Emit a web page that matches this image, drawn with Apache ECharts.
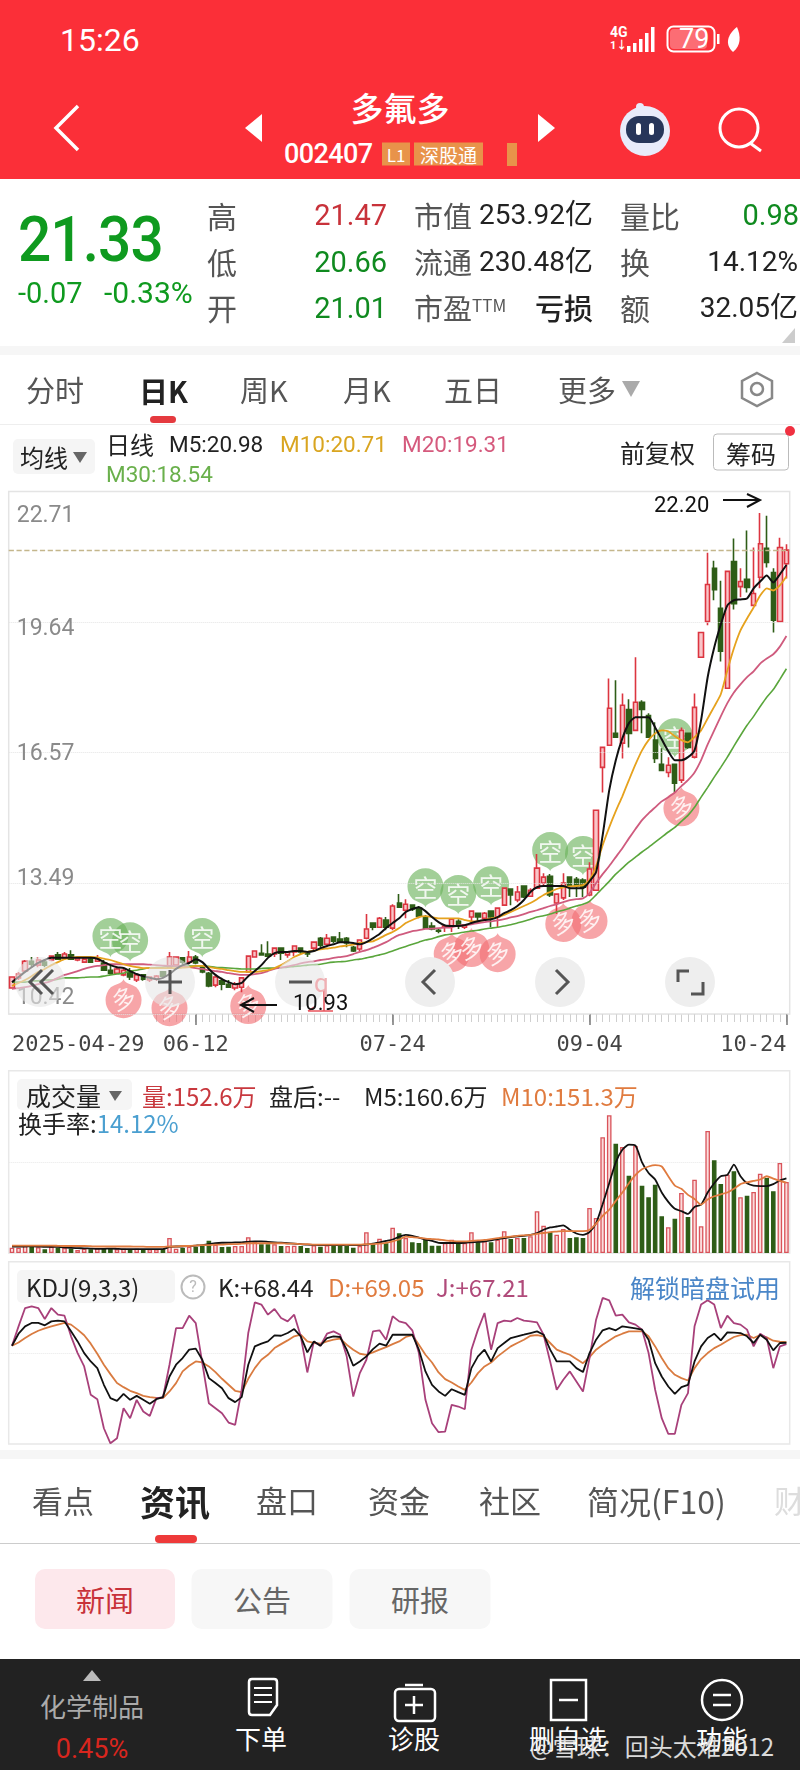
<!DOCTYPE html>
<html>
<head>
<meta charset="utf-8">
<title>多氟多</title>
<script src="https://cdn.jsdelivr.net/npm/echarts@6/dist/echarts.min.js"></script>
<style>
    html, body { margin: 0; padding: 0; background: #fff; }
    body { width: 800px; height: 1770px; position: relative; overflow: hidden; font-family: "Noto Sans CJK SC", Roboto, sans-serif; color: #222; }
    #chart { position: absolute; left: 0; top: 0; width: 800px; height: 1770px; }
    .b { position: absolute; }
    .t { position: absolute; white-space: nowrap; transform: translateY(-50%); line-height: 1.2; }
    .n { font-family: Roboto, "Noto Sans CJK SC", sans-serif; }
    .c { transform: translate(-50%, -50%); }
    svg { position: absolute; overflow: visible; }
</style>
</head>
<body>
<div id="chart"></div>

<!-- 顶部红色标题栏 -->
<div class="b" style="left:0;top:0;width:800px;height:179px;background:#fb2f38"></div>
<div class="t n" style="left:60px;top:40px;font-size:32px;color:#fff">15:26</div>
<div class="t n" style="left:610px;top:32px;font-size:14px;font-weight:700;color:#fff">4G</div>
<div class="t n" style="left:610px;top:46px;font-size:11px;font-weight:700;color:#fff">1↓</div>
<svg style="left:0;top:0" width="800" height="180" fill="#fff" stroke="none">
    <rect x="627" y="46" width="3.5" height="6"/><rect x="633" y="43" width="3.5" height="9"/><rect x="639" y="39" width="3.5" height="13"/><rect x="645" y="33" width="3.5" height="19"/><rect x="651" y="27" width="3.5" height="25"/>
    <rect x="667.5" y="26.5" width="47" height="25" rx="6" fill="none" stroke="#fff" stroke-width="2"/>
    <rect x="670" y="29" width="37" height="20" rx="4" fill="#fff" fill-opacity=".3"/>
    <rect x="717" y="34" width="2.5" height="10"/>
    <path d="M733 52 C724 44 728 34 737 27 C741 36 741 46 733 52Z"/>
    <path d="M78 106 L56 128 L78 150" fill="none" stroke="#fff" stroke-width="3.5"/>
    <path d="M262 114 L262 142 L245 128Z"/><path d="M538 114 L538 142 L555 128Z"/>
    <circle cx="645" cy="131" r="25" fill="#e8ebfa"/><circle cx="640" cy="107" r="4" fill="#e8ebfa"/>
    <rect x="626" y="116" width="38" height="27" rx="13" fill="#27365a"/>
    <rect x="636" y="123" width="5" height="12" rx="2.5"/><rect x="649" y="123" width="5" height="12" rx="2.5"/>
    <circle cx="739" cy="128" r="19" fill="none" stroke="#fff" stroke-width="3"/>
    <path d="M750 143 L761 151" fill="none" stroke="#fff" stroke-width="3"/>
</svg>
<div class="t n" style="left:679px;top:39px;font-size:27px;color:#fff">79</div>
<div class="t c" style="left:400px;top:108px;font-size:33px;color:#fff;font-weight:500">多氟多</div>
<div class="t n" style="left:284px;top:154px;font-size:27px;color:#fff;font-weight:500;letter-spacing:-.6px">002407</div>
<div class="t" style="left:382px;top:154px;width:28px;height:23px;line-height:23px;text-align:center;background:#e8934a;color:#fff;font-size:17px">L1</div>
<div class="t" style="left:414px;top:154px;width:69px;height:23px;line-height:23px;text-align:center;background:#e8934a;color:#fff;font-size:19px">深股通</div>
<div class="b" style="left:507px;top:143px;width:10px;height:23px;background:#e8934a"></div>

<!-- 行情摘要 -->
<div class="t n" style="left:18px;top:240px;font-size:63px;font-weight:500;color:#0f9a1f;letter-spacing:-1px;transform:translateY(-50%) scaleX(.93);transform-origin:left center">21.33</div>
<div class="t n" style="left:18px;top:293px;font-size:29px;color:#0f9a1f">-0.07</div>
<div class="t n" style="left:104px;top:293px;font-size:30px;color:#0f9a1f">-0.33%</div>
<div class="t" style="left:207px;top:215px;font-size:30px;color:#555">高</div>
<div class="t" style="left:207px;top:261px;font-size:30px;color:#555">低</div>
<div class="t" style="left:207px;top:307px;font-size:30px;color:#555">开</div>
<div class="t n" style="right:413px;top:215px;font-size:29px;color:#c8323a">21.47</div>
<div class="t n" style="right:413px;top:262px;font-size:29px;color:#0f8a1f">20.66</div>
<div class="t n" style="right:413px;top:308px;font-size:29px;color:#0f8a1f">21.01</div>
<div class="t" style="left:414px;top:215px;font-size:29px;color:#555">市值</div>
<div class="t n" style="right:207px;top:215px;font-size:28px;color:#222">253.92亿</div>
<div class="t" style="left:414px;top:261px;font-size:29px;color:#555">流通</div>
<div class="t n" style="right:207px;top:262px;font-size:28px;color:#222">230.48亿</div>
<div class="t" style="left:414px;top:307px;font-size:29px;color:#555">市盈<span style="font-size:17px;vertical-align:8px">TTM</span></div>
<div class="t" style="right:207px;top:307px;font-size:29px;font-weight:500;color:#222">亏损</div>
<div class="t" style="left:620px;top:215px;font-size:30px;color:#555">量比</div>
<div class="t" style="left:620px;top:261px;font-size:30px;color:#555">换</div>
<div class="t" style="left:620px;top:307px;font-size:30px;color:#555">额</div>
<div class="t n" style="right:1px;top:215px;font-size:29px;color:#0f8a1f">0.98</div>
<div class="t n" style="right:2px;top:262px;font-size:28px;color:#222">14.12%</div>
<div class="t n" style="right:2px;top:308px;font-size:28px;color:#222">32.05亿</div>
<svg style="left:0;top:0" width="800" height="350"><path d="M795 328 L795 343 L782 343Z" fill="#ccc"/></svg>
<div class="b" style="left:0;top:346px;width:800px;height:9px;background:#f6f6f6"></div>

<!-- 周期切换 -->
<div class="t" style="left:26px;top:389px;font-size:29px;color:#555">分时</div>
<div class="t" style="left:139px;top:390px;font-size:29px;font-weight:700;color:#222">日K</div>
<div class="t" style="left:240px;top:389px;font-size:29px;color:#555">周K</div>
<div class="t" style="left:343px;top:389px;font-size:29px;color:#555">月K</div>
<div class="t" style="left:444px;top:389px;font-size:29px;color:#555">五日</div>
<div class="t" style="left:558px;top:389px;font-size:29px;color:#555">更多</div>
<svg style="left:0;top:0" width="800" height="490">
    <path d="M622 381 L640 381 L631 397Z" fill="#aaa"/>
    <path d="M757 373 L772 381 L772 398 L757 406 L742 398 L742 381Z" fill="none" stroke="#888" stroke-width="2.5"/>
    <circle cx="757" cy="389" r="6" fill="none" stroke="#888" stroke-width="2.5"/>
</svg>
<div class="b" style="left:150px;top:416px;width:26px;height:7px;border-radius:4px;background:#e53a3f"></div>
<div class="b" style="left:0;top:424px;width:800px;height:1px;background:#eee"></div>

<!-- 均线图例 -->
<div class="b" style="left:13px;top:439px;width:82px;height:35px;background:#f5f5f5;border-radius:5px"></div>
<div class="t" style="left:20px;top:457px;font-size:24px">均线</div>
<svg style="left:0;top:0" width="800" height="490"><path d="M73 452 L87 452 L80 463Z" fill="#666"/></svg>
<div class="t" style="left:106px;top:444px;font-size:24px">日线</div>
<div class="t n" style="left:169px;top:444px;font-size:22.5px">M5:20.98</div>
<div class="t n" style="left:280px;top:444px;font-size:22.5px;color:#d9a520">M10:20.71</div>
<div class="t n" style="left:402px;top:444px;font-size:22.5px;color:#d55a7d">M20:19.31</div>
<div class="t n" style="left:106px;top:474px;font-size:22.5px;color:#6ab04c">M30:18.54</div>
<div class="t" style="left:620px;top:452px;font-size:25px">前复权</div>
<div class="t" style="left:713px;top:452px;width:76px;height:37px;line-height:37px;text-align:center;font-size:25px;border:1.5px solid #bbb;border-radius:4px;box-sizing:border-box">筹码</div>
<div class="b" style="left:785px;top:426px;width:10px;height:10px;border-radius:50%;background:#f03040"></div>

<!-- 主图叠加 -->
<div class="t n" style="left:654px;top:505px;font-size:22px;color:#111">22.20</div>
<svg style="left:0;top:0" width="800" height="1040" fill="none" stroke="#111" stroke-width="2">
    <path d="M723 500 L759 500 M747 494 L760 500 L747 507"/>
    <path d="M277 1005 L242 1005 M254 998 L241 1005 L254 1012"/>
    <path d="M308 1011 L333 1011 M308 1011 L314 1007 M324 990 L324 1011" stroke="#e8545c" stroke-width="1.5"/>
    <circle cx="40" cy="982" r="25" fill="#e6e6e6" fill-opacity=".6" stroke="none"/>
    <circle cx="170" cy="982" r="25" fill="#e6e6e6" fill-opacity=".6" stroke="none"/>
    <circle cx="300" cy="982" r="25" fill="#e6e6e6" fill-opacity=".6" stroke="none"/>
    <circle cx="430" cy="982" r="25" fill="#eee" stroke="none"/>
    <circle cx="560" cy="982" r="25" fill="#eee" stroke="none"/>
    <circle cx="690" cy="982" r="25" fill="#eee" stroke="none"/>
    <g stroke="#555" stroke-width="3">
        <path d="M42 970 L30 982 L42 994 M53 970 L41 982 L53 994"/>
        <path d="M158 982 L182 982 M170 970 L170 994"/>
        <path d="M289 982 L312 982"/>
        <path d="M435 970 L423 982 L435 994"/>
        <path d="M556 970 L568 982 L556 994"/>
        <path d="M678 982 L678 971 L689 971 M703 982 L703 994 L691 994"/>
    </g>
</svg>
<div class="t n" style="left:293px;top:1003px;font-size:22px;color:#111">10.93</div>
<div class="t n" style="left:314px;top:984px;font-size:26px;color:#efb0b4">q</div>

<!-- 副图图例 -->
<div class="b" style="left:17px;top:1079px;width:115px;height:31px;background:#f5f5f5;border-radius:5px"></div>
<div class="t" style="left:26px;top:1095px;font-size:25px">成交量</div>
<svg style="left:0;top:0" width="800" height="1310">
    <path d="M109 1091 L122 1091 L115 1101Z" fill="#666"/>
    <path d="M152 1283 L165 1283 L158 1293Z" fill="#666"/>
    <circle cx="193" cy="1287" r="11.5" fill="none" stroke="#bbb" stroke-width="2"/>
</svg>
<div class="t" style="left:142px;top:1096px;font-size:24px;color:#c8383e">量:152.6万</div>
<div class="t" style="left:269px;top:1096px;font-size:24px">盘后:--</div>
<div class="t" style="left:364px;top:1096px;font-size:24px">M5:160.6万</div>
<div class="t" style="left:501px;top:1096px;font-size:24px;color:#e07b3f">M10:151.3万</div>
<div class="t" style="left:18px;top:1123px;font-size:24px">换手率:<span style="color:#4a9fd0">14.12%</span></div>

<div class="b" style="left:17px;top:1270px;width:158px;height:33px;background:#f5f5f5;border-radius:5px"></div>
<div class="t" style="left:26px;top:1287px;font-size:24px">KDJ(9,3,3)</div>
<div class="t c n" style="left:193px;top:1287px;font-size:16px;color:#bbb">?</div>
<div class="t" style="left:218px;top:1287px;font-size:24px">K:+68.44</div>
<div class="t" style="left:328px;top:1287px;font-size:24px;color:#e07b3f">D:+69.05</div>
<div class="t" style="left:436px;top:1287px;font-size:24px;color:#b04a7a">J:+67.21</div>
<div class="t" style="left:630px;top:1287px;font-size:25px;color:#4a86c8">解锁暗盘试用</div>

<!-- 资讯栏 -->
<div class="b" style="left:0;top:1450px;width:800px;height:9px;background:#f6f6f6"></div>
<div class="t" style="left:32px;top:1500px;font-size:31px;color:#555">看点</div>
<div class="t" style="left:140px;top:1501px;font-size:35px;font-weight:700">资讯</div>
<div class="t" style="left:256px;top:1500px;font-size:31px;color:#555">盘口</div>
<div class="t" style="left:368px;top:1500px;font-size:31px;color:#555">资金</div>
<div class="t" style="left:479px;top:1500px;font-size:31px;color:#555">社区</div>
<div class="t" style="left:587px;top:1500px;font-size:32px;color:#555">简况(F10)</div>
<div class="t" style="left:774px;top:1500px;font-size:31px;color:#ddd">财</div>
<div class="b" style="left:155px;top:1535px;width:42px;height:8px;border-radius:4px;background:#ee3a3a"></div>
<div class="b" style="left:0;top:1543px;width:800px;height:1px;background:#ccc"></div>
<div class="t c" style="left:105px;top:1599px;width:140px;height:60px;line-height:60px;text-align:center;background:#fde8ec;border-radius:10px;font-size:29px;color:#c8323a">新闻</div>
<div class="t c" style="left:262px;top:1599px;width:141px;height:60px;line-height:60px;text-align:center;background:#f7f7f7;border-radius:10px;font-size:29px;color:#666">公告</div>
<div class="t c" style="left:420px;top:1599px;width:141px;height:60px;line-height:60px;text-align:center;background:#f7f7f7;border-radius:10px;font-size:29px;color:#666">研报</div>

<!-- 底部导航 -->
<div class="b" style="left:0;top:1659px;width:800px;height:111px;background:#222"></div>
<svg style="left:0;top:0" width="800" height="1770" fill="none" stroke="#fff" stroke-width="2.5">
    <path d="M83 1681 L101 1681 L92 1670Z" fill="#bbb" stroke="none"/>
    <path d="M249 1682 Q249 1679 252 1679 L274 1679 Q277 1679 277 1682 L277 1705 L270 1715 L252 1715 Q249 1715 249 1712Z"/>
    <path d="M254 1688 L272 1688 M254 1695 L272 1695 M254 1702 L272 1702" stroke-width="2"/>
    <rect x="395" y="1689" width="40" height="32" rx="4"/><path d="M405 1685 L423 1685 M414 1696 L414 1714 M405 1705 L423 1705"/>
    <rect x="551" y="1680" width="35" height="40"/><path d="M559 1700 L578 1700"/>
    <circle cx="722" cy="1700" r="20"/><path d="M713 1695 L731 1695 M713 1705 L731 1705"/>
</svg>
<div class="t c" style="left:92px;top:1706px;font-size:26px;color:#aaa">化学制品</div>
<div class="t c n" style="left:92px;top:1749px;font-size:27px;color:#d8261e">0.45%</div>
<div class="t c" style="left:261px;top:1738px;font-size:26px;color:#fff">下单</div>
<div class="t c" style="left:414px;top:1738px;font-size:26px;color:#fff">诊股</div>
<div class="t c" style="left:568px;top:1738px;font-size:26px;color:#fff">删自选</div>
<div class="t c" style="left:722px;top:1738px;font-size:26px;color:#fff">功能</div>
<div class="t" style="left:530px;top:1746px;font-size:24px;color:#eee;opacity:.9">@雪球：回头太难2012</div>

<script type="text/javascript">
    // 交易日（2025-04-29 至 2025-10-24）
    var categories = [
        '04-29','04-30',
        '05-06','05-07','05-08','05-09','05-12','05-13','05-14','05-15','05-16','05-19','05-20','05-21','05-22','05-23','05-26','05-27','05-28','05-29','05-30',
        '06-03','06-04','06-05','06-06','06-09','06-10','06-11','06-12','06-13','06-16','06-17','06-18','06-19','06-20','06-23','06-24','06-25','06-26','06-27','06-30',
        '07-01','07-02','07-03','07-04','07-07','07-08','07-09','07-10','07-11','07-14','07-15','07-16','07-17','07-18','07-21','07-22','07-23','07-24','07-25','07-28','07-29','07-30','07-31',
        '08-01','08-04','08-05','08-06','08-07','08-08','08-11','08-12','08-13','08-14','08-15','08-18','08-19','08-20','08-21','08-22','08-25','08-26','08-27','08-28','08-29',
        '09-01','09-02','09-03','09-04','09-05','09-08','09-09','09-10','09-11','09-12','09-15','09-16','09-17','09-18','09-19','09-22','09-23','09-24','09-25','09-26','09-29','09-30',
        '10-09','10-10','10-13','10-14','10-15','10-16','10-17','10-20','10-21','10-22','10-23','10-24'
    ];
    var dateLabels = ['04-29', '06-12', '07-24', '09-04', '10-24'];
    var priceTicks = [22.71, 19.64, 16.57, 13.49, 10.42];
    var lastClose = 21.33;

    // [开, 收, 低, 高]
    var candles = [
        [11.03,11.29,11.03,11.29],[11.27,11.36,11.22,11.41],[11.43,11.66,11.41,11.69],[11.66,11.59,11.50,11.76],[11.57,11.69,11.52,11.76],
        [11.64,11.57,11.52,11.71],[11.69,11.78,11.66,11.80],[11.81,11.71,11.69,11.88],[11.74,11.83,11.69,11.88],[11.81,11.71,11.69,11.92],
        [11.69,11.74,11.66,11.78],[11.64,11.71,11.62,11.76],[11.71,11.64,11.62,11.74],[11.66,11.74,11.64,11.81],[11.62,11.45,11.43,11.69],
        [11.45,11.38,11.34,11.55],[11.38,11.48,11.36,11.50],[11.34,11.45,11.31,11.48],[11.41,11.29,11.22,11.50],[11.22,11.34,11.17,11.36],
        [11.34,11.24,11.20,11.36],[11.22,11.29,11.17,11.31],[11.24,11.31,11.20,11.34],[11.41,11.31,11.29,11.43],[11.50,11.76,11.50,11.88],
        [11.57,11.76,11.55,11.78],[11.74,11.64,11.59,11.76],[11.64,11.76,11.59,11.90],[11.76,11.62,11.59,11.81],[11.52,11.41,11.38,11.55],
        [11.38,11.08,11.05,11.41],[11.10,11.29,11.05,11.36],[11.20,11.12,10.98,11.27],[11.12,11.05,11.03,11.22],[11.03,11.12,10.98,11.17],
        [11.05,11.27,10.93,11.27],[11.41,11.78,11.41,11.80],[11.76,11.90,11.74,11.92],[11.85,11.81,11.81,12.06],[11.83,11.78,11.78,12.13],
        [11.83,11.97,11.76,11.97],[11.97,11.85,11.69,11.99],[11.81,11.88,11.74,11.90],[11.88,12.02,11.78,12.02],[11.97,11.88,11.83,11.99],
        [11.85,11.83,11.76,11.88],[11.97,12.11,11.88,12.13],[12.20,12.04,11.99,12.23],[12.06,12.20,12.04,12.30],[12.23,12.13,12.09,12.25],
        [12.18,12.13,12.13,12.35],[12.20,12.09,11.99,12.23],[11.99,11.90,11.88,12.02],[11.95,12.16,11.90,12.18],[12.20,12.42,12.18,12.77],
        [12.56,12.46,12.39,12.58],[12.46,12.67,12.44,12.70],[12.63,12.46,12.39,12.70],[12.44,12.96,12.39,13.00],[13.03,12.93,12.91,13.24],
        [12.86,13.00,12.67,13.12],[12.98,12.89,12.84,13.00],[12.91,12.72,12.67,12.96],[12.70,12.44,12.42,12.75],[12.49,12.42,12.39,12.58],
        [12.39,12.37,12.32,12.42],[12.46,12.49,12.35,12.51],[12.49,12.65,12.35,12.67],[12.60,12.51,12.42,12.65],[12.46,12.51,12.42,12.51],
        [12.70,12.84,12.56,12.86],[12.79,12.70,12.58,12.79],[12.67,12.79,12.63,12.82],[12.84,12.70,12.46,12.86],[12.70,12.91,12.46,12.93],
        [12.98,13.38,12.96,13.40],[13.36,13.22,12.98,13.38],[13.10,13.29,13.05,13.43],[13.43,13.17,13.15,13.45],[13.19,13.33,13.17,13.38],
        [13.38,13.85,13.36,14.18],[13.50,13.64,13.45,13.73],[13.66,13.22,13.17,13.71],[13.03,13.24,12.77,13.24],[13.15,13.50,13.10,13.73],
        [13.64,13.45,13.17,13.66],[13.59,13.43,13.17,13.64],[13.57,13.40,13.17,13.61],[13.22,13.83,13.19,13.99],[13.33,15.21,13.33,15.21],
        [16.22,16.69,15.63,16.69],[16.74,17.61,16.74,18.31],[17.02,16.93,16.93,18.27],[16.79,17.68,16.43,17.96],[17.58,17.02,16.69,17.82],
        [17.09,17.75,17.09,18.81],[17.75,17.58,17.02,17.80],[17.44,16.93,16.93,17.49],[16.86,16.43,16.32,17.28],[16.29,16.15,16.13,16.67],
        [16.10,16.27,15.99,16.46],[16.29,15.85,15.63,16.29],[15.92,17.09,15.85,17.16],[17.02,16.69,16.66,17.02],[16.46,17.63,16.43,17.96],
        [18.81,19.39,18.81,19.39],[19.65,20.52,19.56,21.27],[20.90,20.40,20.15,21.08],[19.96,18.95,18.71,20.61],[18.08,20.83,18.08,20.83],
        [21.06,20.07,19.93,21.60],[20.47,20.59,20.22,20.90],[20.64,20.45,20.33,21.79],[20.03,20.31,20.03,21.39],[20.69,21.48,20.43,22.20],
        [21.37,21.04,20.92,22.14],[20.80,19.68,19.39,20.90],[19.65,21.39,19.65,21.62],[21.01,21.33,20.66,21.47]
    ];

    var ma5 = [
        11.17,11.29,11.41,11.52,11.62,11.69,11.74,11.74,11.74,11.74,11.74,11.74,11.74,11.72,11.64,11.57,11.52,11.50,11.43,11.36,
        11.31,11.27,11.24,11.27,11.36,11.48,11.57,11.62,11.71,11.64,11.48,11.34,11.24,11.17,11.12,11.15,11.31,11.43,11.57,11.74,
        11.85,11.88,11.88,11.90,11.90,11.88,11.90,11.97,12.02,12.06,12.11,12.11,12.09,12.06,12.11,12.20,12.30,12.44,12.56,12.67,
        12.82,12.89,12.93,12.84,12.70,12.58,12.50,12.49,12.49,12.51,12.56,12.60,12.63,12.65,12.70,12.79,12.86,12.96,13.10,13.29,
        13.40,13.43,13.43,13.43,13.43,13.38,13.38,13.38,13.54,13.76,14.62,15.68,16.39,16.90,17.26,17.40,17.40,17.40,17.16,16.88,
        16.60,16.39,16.39,16.46,16.62,17.33,18.34,19.04,19.58,20.03,20.15,20.17,20.19,20.43,20.59,20.73,20.57,20.76,20.98
    ];
    var ma10 = [
        11.08,11.15,11.22,11.31,11.41,11.48,11.57,11.64,11.71,11.74,11.76,11.76,11.76,11.75,11.72,11.69,11.64,11.59,11.55,11.52,
        11.50,11.50,11.50,11.50,11.50,11.50,11.51,11.52,11.55,11.55,11.52,11.50,11.48,11.45,11.43,11.41,11.41,11.41,11.43,11.45,
        11.50,11.57,11.66,11.76,11.83,11.88,11.91,11.94,11.96,11.98,12.01,12.03,12.05,12.09,12.11,12.13,12.20,12.28,12.35,12.44,
        12.56,12.63,12.70,12.72,12.70,12.67,12.67,12.67,12.67,12.63,12.60,12.60,12.63,12.67,12.70,12.75,12.82,12.89,12.96,13.03,
        13.12,13.22,13.29,13.36,13.40,13.42,13.43,13.45,13.57,13.90,14.39,14.81,15.19,15.54,15.92,16.29,16.62,16.86,17.02,17.09,
        17.07,16.95,16.86,16.81,16.93,17.09,17.37,17.65,17.94,18.50,19.02,19.44,19.72,19.98,20.26,20.43,20.38,20.50,20.71
    ];
    var ma20 = [
        11.01,11.03,11.05,11.08,11.12,11.15,11.20,11.27,11.34,11.38,11.43,11.48,11.52,11.55,11.57,11.59,11.59,11.59,11.59,11.59,
        11.59,11.58,11.57,11.56,11.55,11.55,11.54,11.52,11.50,11.48,11.45,11.43,11.41,11.38,11.36,11.34,11.34,11.36,11.38,11.43,
        11.48,11.51,11.54,11.57,11.61,11.64,11.66,11.69,11.71,11.74,11.76,11.78,11.83,11.88,11.92,11.98,12.04,12.11,12.20,12.28,
        12.32,12.37,12.39,12.42,12.43,12.44,12.45,12.46,12.50,12.51,12.53,12.56,12.58,12.60,12.62,12.65,12.69,12.72,12.77,12.82,
        12.86,12.91,12.96,13.00,13.05,13.10,13.12,13.14,13.26,13.50,13.71,13.90,14.11,14.32,14.55,14.77,14.98,15.14,15.28,15.42,
        15.52,15.63,15.78,15.92,16.10,16.39,16.76,17.09,17.42,17.73,17.98,18.17,18.34,18.48,18.66,18.78,18.88,19.06,19.31
    ];
    var ma30 = [
        11.17,11.17,11.17,11.20,11.20,11.22,11.22,11.24,11.27,11.27,11.27,11.28,11.29,11.29,11.31,11.34,11.36,11.38,11.43,11.45,
        11.48,11.50,11.51,11.52,11.54,11.55,11.55,11.55,11.55,11.55,11.54,11.52,11.51,11.50,11.49,11.48,11.48,11.48,11.49,11.50,
        11.50,11.51,11.52,11.54,11.55,11.57,11.58,11.59,11.62,11.64,11.65,11.66,11.69,11.71,11.74,11.77,11.81,11.85,11.90,11.96,
        12.01,12.06,12.11,12.16,12.19,12.24,12.28,12.30,12.32,12.35,12.37,12.39,12.42,12.44,12.46,12.49,12.52,12.56,12.60,12.65,
        12.70,12.73,12.77,12.82,12.86,12.91,12.96,13.00,13.07,13.22,13.38,13.54,13.71,13.85,13.99,14.11,14.23,14.34,14.46,14.58,
        14.70,14.81,14.95,15.09,15.28,15.52,15.75,15.99,16.22,16.46,16.72,16.97,17.21,17.42,17.65,17.87,18.05,18.29,18.54
    ];

    // 多空信号：下标 + 价格
    var shortIdx = [15, 18, 29, 63, 68, 73, 82, 87, 101];
    var shortPrice = [11.76, 11.66, 11.76, 12.93, 12.77, 12.98, 13.78, 13.69, 16.46];
    var longIdx = [17, 24, 36, 67, 70, 74, 84, 88, 102];
    var longPrice = [11.24, 11.05, 11.10, 12.32, 12.44, 12.32, 13.03, 13.10, 15.75];

    // 成交量（万手）
    var volumes = [
        11.4,11.4,17.2,13.5,12.3,8,13.5,11.4,10.8,9.2,6.5,9.2,8,10.1,9.2,9.2,8,9.2,8,9.2,
        8,8,8,8,32.3,9.2,10.8,13.5,13.5,15,26.4,17.8,12.9,13.5,15,15,33.8,23.7,18.7,18.7,
        18.7,15,15,15.7,15,10.8,16.6,13.5,16.6,15,15,15,11.4,15,44.5,18.7,30.7,20.9,54.4,42.4,
        32.3,23,21.5,28.6,15.7,15.7,21.5,28.6,20,21.5,44.5,23,25.2,23,28.6,46.7,30.1,32.3,32.3,35.9,
        89.7,58.7,45,39.3,51.6,32.3,33.8,32.3,96.8,75.3,248.8,296.1,235,227.9,166.2,230,144.7,119.8,146.8,78.9,
        55.3,73.7,129,77.4,157.6,57.4,262.3,199.3,148.4,168.3,175.7,119.8,123.2,131.2,170.5,161.3,132.7,193.5,152.6
    ];
    var volMa5 = [
        14,14,14,14.5,14,13,13,13,12,11,10.5,10,9.5,9,9,9.5,9,8.5,8.5,8.5,
        8.5,8.5,8.5,8.5,13,14,14,15,16,17,19,21,22,22,23,23,24,25,25,24,
        23,22,21,20,19,18,17.5,17,17,17,17,17.5,17,17,18,20,23,26,29,35,
        39,37,33,29,26,22,21.5,21.5,21.5,22,23,24,25,27,30,32,34,36,37,39,
        43,50,55,57,59.5,50,42,39,45,64,105,150,195,222,233,231,195,172,158,130,
        110,95,90,84,99,104,130,150,165,168,190,165,150,145,144,144,148,156,160.6
    ];
    var volMa10 = [
        16,16,16,16,16,16,16,15.5,15,15,15,15,14.5,14,14,14,14,14,14,13.5,
        13.5,13,13,13,14,14,15,15,16,17,17,18,18,19,19,20,21,21,21,21,
        21,21,20,20,19,19,18,18,18,18,18,18,18,18,19,19,20,22,25,29,
        35,34,33,31,30,29,27,26,25,25,26,27,28,30,32,34,35,37,38,39,
        41,43,45,46,47,47,47,47,50,63,80,93,112,130,150,168,180,186,189,186,
        165,145,138,125,116,104,115,122,126,130,138,148,152,155,158,165,160,155,151.3
    ];

    var kdjK = [
        65.8,76.4,82.9,85.9,85.9,83.8,87.3,87.9,87.3,78.5,69.6,59.3,51.9,46,31.3,19.5,17.1,23.3,18,21.5,
        18,14.5,18.6,20.4,38.6,49,54.9,62.3,63.2,53.4,37.2,32.8,28.3,19.5,16,20.4,49,65.2,67.6,69.6,
        74.9,74.6,77,80.5,74.1,59.9,69.6,65.8,72.6,74.1,73.5,62.3,48.1,51.9,56.4,62.8,67.6,65.8,75.5,75.5,
        75.5,75.5,62.3,43.1,31.3,25.4,21.5,27.4,24.8,22.4,46,56.4,62.3,51.9,63.7,68.2,72.6,74.1,75.5,77,
        78.5,75.5,62.3,51.9,51.9,51.9,46,42.5,59.3,71.1,79.4,81.4,79.4,82.9,82,81.1,80,71.1,50.4,38.6,
        29.8,23.3,29.2,31.3,51.9,65.2,72.6,76.4,70.5,77.6,77.3,77,74.1,68.2,75.5,71.1,61.7,68.2,68.44
    ];
    var kdjD = [
        65.8,68.7,72.6,76.1,79,81.1,82.9,84.4,85.9,84.4,80,75,67.6,58.7,49,40.7,32.8,29.2,26,23.9,
        21.5,20.4,19.8,19.5,25.4,32.8,43.1,48.1,51.9,51,47.5,42.5,36.6,31.3,26,24.8,36.6,46,53.4,57.8,
        63.7,67.2,70.5,74.1,75.5,69.6,68.2,67.6,69.6,71.1,72,66.7,62.3,58.7,57.8,59.9,62.3,64.6,67.2,69.6,
        73.5,75.2,66.7,57.8,51,42.2,36.3,33.3,29.8,26.8,33.3,41.6,47.5,51,56.4,60.8,65.2,68.2,71.1,74.6,
        75.2,74.1,68.2,62.3,59.9,57.8,54,50.4,55.8,62.3,66.7,70.5,74.1,76.4,78.5,78.5,78.5,74.1,65.2,54.9,
        46,40.1,37.2,35.1,46,54,59.3,63.7,66.7,70.2,73.5,75.2,75.5,72.6,75.2,73.2,70.2,69.3,69.05
    ];
    var kdjJ = [
        65.8,82.9,99.1,100.6,99.1,89.4,99.1,93.2,92.3,74.1,59.3,47.5,22.4,18.6,-7.1,-20.4,-16,10.6,1.8,18,
        7.7,3.8,19.5,20.1,49,81.4,81.4,92.3,85.8,50.4,15,10.6,6.2,-2.1,-4.1,26.9,77,104.1,102.1,93.2,
        98.2,90.3,87.3,93.2,74.1,42.2,69.6,65.8,76.4,78.5,75.5,56.4,20.9,41.6,53.4,78.5,79.4,71.1,91.8,87.3,
        85.8,79.4,59.3,18,-2.7,-10.6,-10,13.6,12.1,9.7,62.3,80,94.7,62.3,85.8,87.9,87.3,90.3,87.9,87.3,
        86.4,75.5,51.9,26.9,35.7,43.1,34.2,25.4,54.9,88.8,108,105.9,92.3,93.2,86.4,84.4,80,59.3,26.9,1.8,
        -12.1,-12.1,13.6,23.9,82.9,102.1,105.9,102.1,81.4,92.3,85.8,84.4,80,65.2,76.4,72.6,46,65.2,67.21
    ];

    var UP_LINE = '#dc3540', UP_FILL = '#f9c4c8', DOWN = '#2e5d17';
    var FONT_NUM = 'Roboto';
    var gridLeft = 8.7, gridWidth = 781;
    var labelOffsets = [36, 19, 13, 7, -4]; // 价格刻度文字相对网格线的偏移
    var PIN_PATH = 'path://M16 34 C14.5 30 9 30 5 27 A15.5 15.5 0 1 1 27 27 C23 30 17.5 30 16 34Z';

    var volBars = volumes.map(function (v, i) {
        var up = candles[i][1] >= candles[i][0];
        return { value: v, itemStyle: { color: up ? '#fbdcdc' : DOWN, borderColor: up ? '#d9535a' : DOWN, borderWidth: 1.3 } };
    });

    function maLine(name, data, color, width, xi, yi, smooth) {
        return {
            name: name, type: 'line', data: data, xAxisIndex: xi, yAxisIndex: yi,
            symbol: 'none', smooth: smooth, z: 5,
            lineStyle: { color: color, width: width }
        };
    }

    function pins(name, idx, price, color, flip) {
        return {
            name: name, type: 'scatter', xAxisIndex: 0, yAxisIndex: 0, z: 1,
            data: idx.map(function (x, i) { return [x, price[i]]; }),
            symbol: PIN_PATH, symbolSize: [36, 39], symbolRotate: flip ? 180 : 0,
            symbolOffset: [0, flip ? '50%' : '-50%'],
            itemStyle: { color: color },
            label: { show: true, formatter: name, position: 'inside', color: '#fff', opacity: 0.85, fontSize: 24, fontFamily: 'Noto Sans CJK SC', rotate: flip ? 20 : 0 }
        };
    }

    var myChart = echarts.init(document.getElementById('chart'), null, { width: 800, height: 1770 });
    myChart.setOption({
        animation: false,
        backgroundColor: 'transparent',
        grid: [
            { left: gridLeft, width: gridWidth, top: 491.4, height: 522.6, show: true, borderColor: '#e4e4e4', borderWidth: 1.5 },
            { left: gridLeft, width: gridWidth, top: 1070.7, height: 182.3, show: true, borderColor: '#e8e8e8', borderWidth: 1.5 },
            { left: gridLeft, width: gridWidth, top: 1261.7, height: 182.3, show: true, borderColor: '#e8e8e8', borderWidth: 1.5 }
        ],
        xAxis: [
            {
                type: 'category', gridIndex: 0, data: categories, position: 'bottom',
                axisLine: { show: false },
                axisTick: { show: true, length: 8, alignWithLabel: true, lineStyle: { color: '#cfcfcf' }, interval: function (i) { return i >= 22; } },
                axisLabel: {
                    interval: function (i, v) { return dateLabels.indexOf(v) >= 0; },
                    formatter: function (v, i) { return i === 0 ? '2025-' + v : v; },
                    margin: 20, fontSize: 22, color: '#444', fontFamily: 'DejaVu Sans Mono',
                    alignMinLabel: 'left', alignMaxLabel: 'right'
                }
            },
            {
                type: 'category', gridIndex: 0, data: categories, position: 'bottom',
                axisLine: { show: false }, axisLabel: { show: false },
                axisTick: { show: true, length: 11, alignWithLabel: true, lineStyle: { color: '#777', width: 1.5 }, interval: function (i, v) { return i > 0 && dateLabels.indexOf(v) >= 0; } }
            },
            { type: 'category', gridIndex: 1, data: categories, axisLine: { show: false }, axisTick: { show: false }, axisLabel: { show: false } },
            { type: 'category', gridIndex: 2, data: categories, axisLine: { show: false }, axisTick: { show: false }, axisLabel: { show: false } }
        ],
        yAxis: [
            { type: 'value', gridIndex: 0, min: 10.42, max: 22.71, axisLabel: { show: false }, splitLine: { show: false }, axisLine: { show: false }, axisTick: { show: false } },
            { type: 'value', gridIndex: 1, min: 0, max: 392, interval: 196, axisLabel: { show: false }, axisLine: { show: false }, axisTick: { show: false }, splitLine: { lineStyle: { color: '#e8e8e8', type: 'dotted' } } },
            { type: 'value', gridIndex: 2, min: -21, max: 140, axisLabel: { show: false }, splitLine: { show: false }, axisLine: { show: false }, axisTick: { show: false } }
        ],
        series: [
            pins('空', shortIdx, shortPrice, 'rgba(106,178,90,0.78)', false),
            pins('多', longIdx, longPrice, 'rgba(242,110,115,0.78)', true),
            {
                name: '日K', type: 'candlestick', data: candles, xAxisIndex: 0, yAxisIndex: 0, z: 3,
                barWidth: 4.8,
                itemStyle: { color: UP_FILL, color0: DOWN, borderColor: UP_LINE, borderColor0: DOWN, borderWidth: 1.6 },
                markLine: {
                    silent: true, symbol: 'none', animation: false,
                    data: priceTicks.map(function (v, i) {
                        return {
                            yAxis: v,
                            lineStyle: { color: '#e4e4e4', type: 'dotted', width: 1 },
                            label: {
                                show: true, formatter: v.toFixed(2), position: 'insideStartTop', distance: 0,
                                offset: [8, labelOffsets[i]], fontSize: 23, color: '#8a8a8a', fontFamily: FONT_NUM
                            }
                        };
                    }).concat([{
                        yAxis: lastClose,
                        lineStyle: { color: '#c4b68c', type: 'dashed', width: 1.3 },
                        label: { show: false }
                    }])
                }
            },
            maLine('M30', ma30, '#5aa63c', 1.6, 0, 0, 0.2),
            maLine('M20', ma20, '#cf5b7e', 1.8, 0, 0, 0.2),
            maLine('M10', ma10, '#e6a21e', 1.8, 0, 0, 0.2),
            maLine('M5', ma5, '#111', 2, 0, 0, 0.2),
            { name: '成交量', type: 'bar', data: volBars, xAxisIndex: 2, yAxisIndex: 1, barWidth: 4.6 },
            maLine('VM5', volMa5, '#111', 1.8, 2, 1, 0.2),
            maLine('VM10', volMa10, '#e07b3f', 1.8, 2, 1, 0.2),
            {
                name: 'K', type: 'line', data: kdjK, xAxisIndex: 3, yAxisIndex: 2, symbol: 'none', z: 6,
                lineStyle: { color: '#111', width: 1.8 },
                markLine: {
                    silent: true, symbol: 'none', animation: false, label: { show: false },
                    lineStyle: { color: '#e8e8e8', type: 'dotted', width: 1 },
                    data: [{ yAxis: 59.5 }]
                }
            },
            maLine('D', kdjD, '#d97b40', 1.8, 3, 2, false),
            maLine('J', kdjJ, '#a8407a', 1.8, 3, 2, false)
        ]
    });
</script>
</body>
</html>
